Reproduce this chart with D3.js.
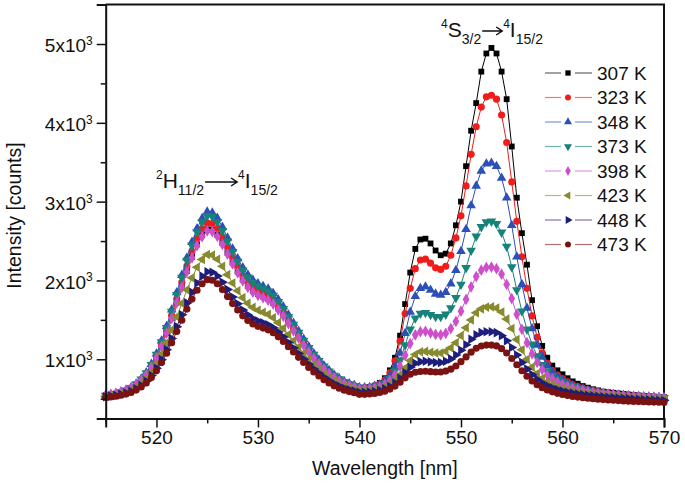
<!DOCTYPE html>
<html>
<head>
<meta charset="utf-8">
<script src="https://cdn.jsdelivr.net/npm/d3@7"></script>
<style>
  body { margin: 0; background: #fff; }
  svg text { font-family: "Liberation Sans", Arial, sans-serif; fill: #111; }
</style>
</head>
<body>
<svg id="chart" width="685" height="486"></svg>
<script>
// wavelength grid [nm]
const wavelengths = [
  515, 515.5, 516, 516.5, 517, 517.5, 518, 518.5, 519, 519.5,
  520, 520.5, 521, 521.5, 522, 522.5, 523, 523.5, 524, 524.5,
  525, 525.5, 526, 526.5, 527, 527.5, 528, 528.5, 529, 529.5,
  530, 530.5, 531, 531.5, 532, 532.5, 533, 533.5, 534, 534.5,
  535, 535.5, 536, 536.5, 537, 537.5, 538, 538.5, 539, 539.5,
  540, 540.5, 541, 541.5, 542, 542.5, 543, 543.5, 544, 544.5,
  545, 545.5, 546, 546.5, 547, 547.5, 548, 548.5, 549, 549.5,
  550, 550.5, 551, 551.5, 552, 552.5, 553, 553.5, 554, 554.5,
  555, 555.5, 556, 556.5, 557, 557.5, 558, 558.5, 559, 559.5,
  560, 560.5, 561, 561.5, 562, 562.5, 563, 563.5, 564, 564.5,
  565, 565.5, 566, 566.5, 567, 567.5, 568, 568.5, 569, 569.5, 570
];

const temperatures = ["307 K", "323 K", "348 K", "373 K", "398 K", "423 K", "448 K", "473 K"];

// intensity [counts], one list per temperature
const i307 = [
  530, 542, 554, 572, 594, 625, 668, 724, 796, 894,
  1015, 1162, 1331, 1520, 1720, 1920, 2120, 2300, 2458, 2574,
  2649, 2640, 2578, 2475, 2351, 2227, 2114, 2011, 1929, 1867,
  1827, 1797, 1767, 1716, 1645, 1562, 1470, 1377, 1284, 1192,
  1105, 1028, 956, 890, 833, 782, 742, 708, 682, 663,
  640, 640, 650, 665, 700, 760, 860, 1020, 1300, 1700,
  2100, 2400, 2520, 2530, 2470, 2380, 2320, 2340, 2470, 2700,
  3000, 3450, 3900, 4250, 4650, 4880, 4950, 4880, 4650, 4300,
  3700, 3050, 2600, 2200, 1750, 1420, 1170, 1020, 920, 860,
  810, 760, 720, 690, 660, 640, 620, 605, 590, 582,
  575, 567, 560, 553, 547, 541, 536, 531, 527, 523, 520
];
const i323 = [
  530, 542, 555, 573, 596, 628, 673, 731, 806, 907,
  1033, 1186, 1362, 1559, 1767, 1975, 2183, 2369, 2533, 2654,
  2732, 2722, 2658, 2551, 2421, 2292, 2174, 2067, 1981, 1917,
  1875, 1844, 1812, 1759, 1684, 1599, 1502, 1406, 1309, 1213,
  1123, 1041, 966, 898, 839, 786, 743, 708, 681, 660,
  630, 635, 645, 660, 690, 740, 830, 980, 1230, 1580,
  1900, 2150, 2260, 2270, 2220, 2160, 2140, 2180, 2320, 2540,
  2820, 3200, 3600, 3950, 4200, 4330, 4350, 4300, 4100, 3750,
  3250, 2750, 2300, 1900, 1550, 1280, 1080, 950, 860, 800,
  755, 715, 680, 655, 635, 617, 602, 589, 578, 568,
  560, 553, 547, 541, 536, 531, 527, 523, 519, 516, 513
];
const i348 = [
  540, 553, 566, 585, 609, 643, 690, 751, 831, 938,
  1071, 1234, 1419, 1628, 1848, 2068, 2288, 2486, 2660, 2788,
  2870, 2859, 2791, 2677, 2540, 2403, 2278, 2164, 2073, 2005,
  1960, 1926, 1893, 1837, 1757, 1666, 1564, 1461, 1359, 1256,
  1161, 1074, 995, 922, 859, 803, 758, 720, 691, 669,
  640, 640, 645, 660, 680, 720, 790, 900, 1080, 1330,
  1600, 1800, 1900, 1920, 1880, 1830, 1815, 1850, 1960, 2130,
  2370, 2650, 2950, 3200, 3390, 3480, 3490, 3450, 3300, 3050,
  2700, 2300, 1950, 1650, 1390, 1180, 1030, 920, 840, 780,
  740, 700, 670, 645, 625, 605, 590, 580, 570, 560,
  555, 550, 545, 540, 535, 530, 527, 524, 521, 518, 515
];
const i373 = [
  540, 552, 565, 584, 608, 640, 687, 747, 825, 929,
  1059, 1218, 1400, 1605, 1820, 2036, 2252, 2445, 2615, 2740,
  2820, 2810, 2744, 2632, 2498, 2363, 2240, 2128, 2039, 1973,
  1929, 1896, 1863, 1808, 1730, 1641, 1540, 1440, 1339, 1239,
  1145, 1060, 982, 911, 849, 794, 750, 712, 684, 663,
  630, 630, 635, 645, 665, 700, 760, 850, 990, 1180,
  1380, 1520, 1580, 1590, 1565, 1540, 1540, 1570, 1650, 1780,
  1950, 2160, 2380, 2560, 2680, 2740, 2750, 2720, 2610, 2430,
  2170, 1880, 1610, 1380, 1190, 1040, 930, 850, 790, 745,
  710, 680, 655, 635, 615, 600, 590, 578, 568, 560,
  553, 547, 541, 536, 532, 528, 524, 520, 517, 514, 511
];
const i398 = [
  545, 556, 567, 585, 606, 636, 678, 733, 804, 900,
  1019, 1164, 1331, 1518, 1715, 1912, 2110, 2287, 2443, 2557,
  2630, 2621, 2560, 2457, 2334, 2210, 2097, 1995, 1913, 1851,
  1811, 1781, 1750, 1700, 1628, 1546, 1454, 1361, 1269, 1177,
  1091, 1013, 941, 876, 819, 768, 727, 693, 667, 647,
  620, 620, 625, 635, 650, 680, 730, 800, 910, 1050,
  1200, 1310, 1350, 1355, 1335, 1315, 1310, 1330, 1390, 1480,
  1610, 1760, 1920, 2050, 2130, 2165, 2170, 2150, 2080, 1950,
  1770, 1570, 1380, 1210, 1070, 960, 870, 800, 750, 710,
  680, 655, 635, 618, 603, 590, 580, 570, 562, 555,
  548, 542, 537, 532, 528, 524, 520, 517, 514, 511, 508
];
const i423 = [
  530, 540, 549, 564, 583, 609, 645, 692, 754, 836,
  939, 1065, 1208, 1370, 1540, 1711, 1881, 2033, 2168, 2267,
  2330, 2322, 2269, 2181, 2074, 1968, 1870, 1782, 1711, 1658,
  1623, 1597, 1571, 1527, 1465, 1394, 1315, 1235, 1155, 1076,
  1002, 934, 873, 816, 767, 723, 688, 658, 636, 619,
  600, 600, 605, 612, 625, 648, 685, 735, 805, 890,
  985, 1060, 1095, 1100, 1090, 1080, 1080, 1100, 1145, 1210,
  1300, 1400, 1500, 1590, 1640, 1662, 1665, 1650, 1600, 1510,
  1390, 1250, 1120, 1000, 900, 820, 760, 715, 680, 652,
  630, 612, 597, 584, 573, 563, 555, 548, 542, 536,
  530, 525, 520, 515, 511, 507, 503, 500, 497, 494, 491
];
const i448 = [
  525, 533, 542, 555, 571, 594, 626, 667, 721, 794,
  885, 995, 1122, 1264, 1414, 1564, 1715, 1849, 1968, 2055,
  2110, 2103, 2056, 1978, 1884, 1790, 1704, 1626, 1563, 1516,
  1485, 1462, 1439, 1400, 1346, 1283, 1213, 1142, 1072, 1002,
  936, 877, 822, 772, 729, 690, 659, 633, 613, 597,
  580, 580, 585, 592, 605, 625, 655, 700, 760, 830,
  900, 950, 970, 975, 968, 960, 960, 975, 1005, 1055,
  1115, 1185, 1255, 1310, 1340, 1350, 1350, 1338, 1300, 1235,
  1150, 1055, 960, 875, 805, 745, 700, 665, 637, 615,
  597, 582, 570, 560, 551, 543, 536, 530, 524, 519,
  514, 509, 505, 501, 497, 493, 489, 486, 483, 480, 477
];
const i473 = [
  515, 523, 531, 543, 558, 579, 609, 648, 699, 768,
  853, 958, 1077, 1211, 1353, 1495, 1637, 1764, 1876, 1958,
  2010, 2003, 1959, 1884, 1795, 1707, 1625, 1551, 1492, 1447,
  1418, 1396, 1374, 1337, 1285, 1226, 1159, 1092, 1025, 959,
  897, 840, 788, 741, 700, 663, 633, 608, 590, 575,
  555, 555, 560, 567, 578, 595, 622, 660, 710, 765,
  810, 835, 845, 848, 843, 838, 838, 850, 875, 915,
  970, 1030, 1090, 1140, 1168, 1180, 1180, 1170, 1135, 1080,
  1010, 930, 855, 785, 725, 677, 640, 610, 587, 568,
  553, 540, 529, 520, 512, 505, 499, 494, 489, 484,
  480, 476, 472, 469, 466, 463, 461, 459, 457, 455, 453
];

const intensities = [i307, i323, i348, i373, i398, i423, i448, i473];

const xMajorTicks = [520, 530, 540, 550, 560, 570];
const xMinorTicks = [515, 525, 535, 545, 555, 565];
const yMajorTicks = [1000, 2000, 3000, 4000, 5000];
const yMinorTicks = [500, 1500, 2500, 3500, 4500];

// look of each series
const colors = ["#000000", "#f01c1c", "#2c4fb8", "#178277", "#cc4fcc", "#878a2e", "#1d1d7c", "#7a1212"];
const shapes = [
  { type: d3.symbolSquare, rot: 0 },
  { type: d3.symbolCircle, rot: 0 },
  { type: d3.symbolTriangle, rot: 0 },
  { type: d3.symbolTriangle, rot: 180 },
  { type: d3.symbolDiamond, rot: 0 },
  { type: d3.symbolTriangle, rot: -90 },
  { type: d3.symbolTriangle, rot: 90 },
  { type: d3.symbolCircle, rot: 0 }
];

const svg = d3.select("#chart");
const plotBox = { left: 105.7, right: 664, top: 4.6, bottom: 418.4 };

const x = d3.scaleLinear().domain([515, 570]).range([plotBox.left, plotBox.right]);
const y = d3.scaleLinear().domain([250, 5500]).range([plotBox.bottom, plotBox.top]);

// plot frame (top and right)
svg.append("path")
  .attr("d", `M${plotBox.left},${plotBox.top}H${plotBox.right}V${plotBox.bottom}`)
  .attr("fill", "none")
  .attr("stroke", "#111")
  .attr("stroke-width", 2);

// data
const plot = svg.append("g");
const line = d3.line().x((d, i) => x(wavelengths[i])).y(d => y(d));

intensities.forEach((series, k) => {
  const g = plot.append("g");
  g.append("path")
    .attr("d", line(series))
    .attr("fill", "none")
    .attr("stroke", colors[k])
    .attr("stroke-width", 1);

  const sym = d3.symbol().type(shapes[k].type).size(k === 0 ? 34 : 40);
  g.selectAll("path.pt")
    .data(series)
    .join("path")
    .classed("pt", true)
    .attr("d", sym)
    .attr("fill", colors[k])
    .attr("transform", (d, i) => `translate(${x(wavelengths[i])},${y(d)}) rotate(${shapes[k].rot})`);
});

// axes
const xAxis = svg.append("g")
  .attr("transform", `translate(0,${plotBox.bottom})`)
  .call(d3.axisBottom(x).tickValues(xMajorTicks).tickSize(9).tickPadding(3).tickFormat(d3.format("d")));
svg.append("g")
  .attr("transform", `translate(0,${plotBox.bottom})`)
  .call(d3.axisBottom(x).tickValues(xMinorTicks).tickSize(5).tickFormat(""))
  .call(g => g.select(".domain").remove());

const yAxis = svg.append("g")
  .attr("transform", `translate(${plotBox.left},0)`)
  .call(d3.axisLeft(y).tickValues(yMajorTicks).tickSize(9).tickPadding(4).tickFormat(""));
svg.append("g")
  .attr("transform", `translate(${plotBox.left},0)`)
  .call(d3.axisLeft(y).tickValues(yMinorTicks).tickSize(5).tickFormat(""))
  .call(g => g.select(".domain").remove());

svg.selectAll(".domain").attr("stroke", "#111").attr("stroke-width", 2);
svg.selectAll(".tick line").attr("stroke", "#111").attr("stroke-width", 1.5);
xAxis.selectAll("text").attr("font-size", 19).attr("font-family", null);

yAxis.selectAll(".tick text").each(function (d) {
  const t = d3.select(this).attr("font-size", 19).attr("font-family", null).attr("dy", "0.4em");
  t.append("tspan").text(`${d / 1000}x10`);
  t.append("tspan").attr("dy", "-0.6em").attr("font-size", 12).text("3");
});

// axis titles
svg.append("text")
  .attr("x", (plotBox.left + plotBox.right) / 2)
  .attr("y", 475)
  .attr("text-anchor", "middle")
  .attr("font-size", 19.5)
  .text("Wavelength [nm]");

svg.append("text")
  .attr("transform", `translate(21,${(plotBox.top + plotBox.bottom) / 2 + 4}) rotate(-90)`)
  .attr("text-anchor", "middle")
  .attr("font-size", 19.5)
  .text("Intensity [counts]");

// transition labels: pieces laid out one after the other, arrow drawn as a path
function transition(x0, baseline, pieces) {
  let cx = x0;
  pieces.forEach(p => {
    if (p.arrow) {
      const ay = baseline - 6;
      svg.append("path")
        .attr("d", `M${cx + 1},${ay}H${cx + p.arrow - 1}M${cx + p.arrow - 7},${ay - 4}L${cx + p.arrow - 1},${ay}L${cx + p.arrow - 7},${ay + 4}`)
        .attr("fill", "none")
        .attr("stroke", "#111")
        .attr("stroke-width", 1.5);
      cx += p.arrow;
      return;
    }
    const size = p.sup ? 12 : p.sub ? 14 : 21;
    const off = p.sup ? -9 : p.sub ? 7 : 0;
    const t = svg.append("text")
      .attr("x", cx).attr("y", baseline + off)
      .attr("font-size", size)
      .text(p.t);
    cx += t.node().getComputedTextLength();
  });
}
transition(156, 188, [
  { t: "2", sup: true }, { t: "H" }, { t: "11/2", sub: true }, { arrow: 34 },
  { t: "4", sup: true }, { t: "I" }, { t: "15/2", sub: true }
]);
transition(441, 37, [
  { t: "4", sup: true }, { t: "S" }, { t: "3/2", sub: true }, { arrow: 22 },
  { t: "4", sup: true }, { t: "I" }, { t: "15/2", sub: true }
]);

// legend
const legend = svg.append("g");
temperatures.forEach((label, k) => {
  const ly = 73 + k * 24.5;
  const row = legend.append("g").attr("transform", `translate(0,${ly})`);
  row.append("line").attr("x1", 545).attr("x2", 561).attr("y1", 0).attr("y2", 0)
    .attr("stroke", colors[k]).attr("stroke-width", 1.2).attr("opacity", 0.6);
  row.append("line").attr("x1", 575).attr("x2", 592).attr("y1", 0).attr("y2", 0)
    .attr("stroke", colors[k]).attr("stroke-width", 1.2).attr("opacity", 0.6);
  row.append("path")
    .attr("d", d3.symbol().type(shapes[k].type).size(28))
    .attr("fill", colors[k])
    .attr("transform", `translate(568,0) rotate(${shapes[k].rot})`);
  row.append("text").attr("x", 597).attr("y", 0).attr("dy", "0.36em")
    .attr("font-size", 19).text(label);
});
</script>
</body>
</html>
